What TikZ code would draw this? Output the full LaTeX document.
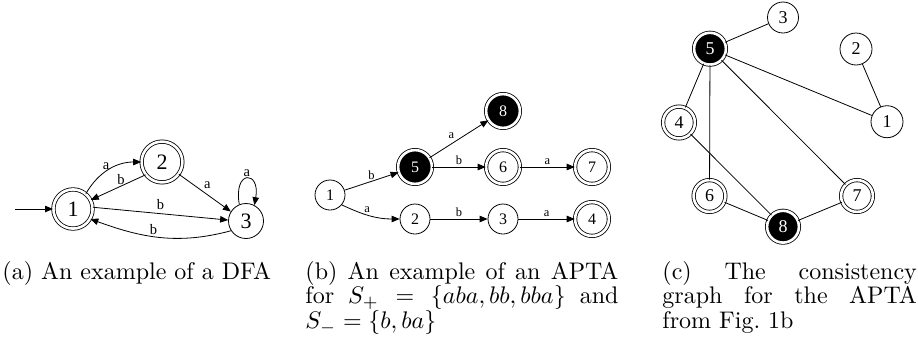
\documentclass[tikz,border=0pt]{standalone}
\usepackage{fontspec}
\newfontfamily\dotfont{Liberation Serif}
\usetikzlibrary{arrows.meta}

\begin{document}
\begin{tikzpicture}[
  x=1pt, y=-1pt,
  stateNode/.style={circle, draw, line width=0.8pt, inner sep=0pt, minimum size=#1},
  accNode/.style={stateNode=#1, double, double distance=2.6pt},
  hitNode/.style={accNode=#1, fill=black, text=white},
  dfaFont/.style={font=\dotfont\fontsize{22}{22}\selectfont},
  aptaFont/.style={font=\dotfont\fontsize{16}{16}\selectfont},
  graphFont/.style={font=\dotfont\fontsize{18}{18}\selectfont},
  edgeLabel/.style={font=\dotfont\fontsize{#1}{#1}\selectfont, inner sep=1.5pt},
  arrow/.style={-{Triangle[length=8pt, width=6.5pt]}, line width=0.8pt},
  link/.style={line width=0.8pt},
  capText/.style={anchor=north west, inner sep=0pt, align=justify, text width=#1, scale=2.4, transform shape, font=\fontsize{10}{10.2}\selectfont}
]
\useasboundingbox (0,0) rectangle (918,346);

% Panel (a): DFA
\node[accNode=39.2, dfaFont] (a1) at (73,209) {1};
\node[accNode=40.8, dfaFont] (a2) at (162,162) {2};
\node[stateNode=35, dfaFont] (a3) at (246,221) {3};
\coordinate (aStart) at (15,209);

\draw[arrow] (aStart) -- (a1);
\draw[arrow] (a1.50) to[out=60, in=180] node[edgeLabel=14.5, above, pos=0.45] {a} (a2);
\draw[arrow] (a2.218) -- node[edgeLabel=14.5, above, pos=0.45] {b} (a1.27);
\draw[arrow] (a2.-36) -- node[edgeLabel=14.5, above right, pos=0.45] {a} (a3.148);
\draw[arrow] (a1.5) -- node[edgeLabel=14.5, above, yshift=2pt] {b} (a3.177);
\draw[arrow] (a3.213) to[out=195, in=-20] node[edgeLabel=14.5, above, pos=0.55] {b} (a1.-30);
\draw[arrow] (a3.112) to[out=100, in=80, looseness=6] node[edgeLabel=14.5, above] {a} (a3.62);

% Panel (b): APTA
\node[stateNode=30, aptaFont] (b1) at (330,195) {1};
\node[hitNode=33.8, aptaFont] (b5) at (415,167) {5};
\node[hitNode=33.8, aptaFont] (b8) at (503,111) {8};
\node[accNode=33.8, aptaFont] (b6) at (503,167) {6};
\node[accNode=33.8, aptaFont] (b7) at (592,167) {7};
\node[stateNode=30, aptaFont] (b2) at (415,219) {2};
\node[stateNode=30, aptaFont] (b3) at (503,219) {3};
\node[accNode=33.8, aptaFont] (b4) at (592,219) {4};

\draw[arrow] (b1) -- node[edgeLabel=12.5, above] {b} (b5);
\draw[arrow] (b1.-40) to[out=-25, in=180] node[edgeLabel=12.5, above, pos=0.45] {a} (b2);
\draw[arrow] (b5) -- node[edgeLabel=12.5, above left, pos=0.45] {a} (b8);
\draw[arrow] (b5) -- node[edgeLabel=12.5, above] {b} (b6);
\draw[arrow] (b6) -- node[edgeLabel=12.5, above] {a} (b7);
\draw[arrow] (b2) -- node[edgeLabel=12.5, above] {b} (b3);
\draw[arrow] (b3) -- node[edgeLabel=12.5, above] {a} (b4);

% Panel (c): consistency graph
\node[stateNode=31, graphFont] (c3) at (783,17.5) {3};
\node[hitNode=31.8, graphFont] (c5) at (710,48.7) {5};
\node[stateNode=32, graphFont] (c2) at (856,49) {2};
\node[accNode=31.8, graphFont] (c4) at (679,122.5) {4};
\node[stateNode=32, graphFont] (c1) at (887,121.7) {1};
\node[accNode=31.8, graphFont] (c6) at (709.5,196) {6};
\node[accNode=31.8, graphFont] (c7) at (857,196) {7};
\node[hitNode=31.8, graphFont] (c8) at (783,226.7) {8};

\draw[link] (c5) -- (c3);
\draw[link] (c5) -- (c1);
\draw[link] (c5) -- (c4);
\draw[link] (c5) -- (c6);
\draw[link] (c5) -- (c7);
\draw[link] (c2) -- (c1);
\draw[link] (c4) -- (c8);
\draw[link] (c6) -- (c8);
\draw[link] (c7) -- (c8);

% Captions
\node[capText=125pt] (capA) at (2,261) {\noindent(a) An example of a DFA};
\node[capText=130.4pt] (capB) at (305,261) {\noindent(b) An example of an APTA for $S_+ = \{aba, bb, bba\}$ and $S_- = \{b, ba\}$};
\node[capText=106pt] (capC) at (662,261) {\noindent(c) The consistency graph for the APTA from Fig.~1b};

\end{tikzpicture}
\end{document}
